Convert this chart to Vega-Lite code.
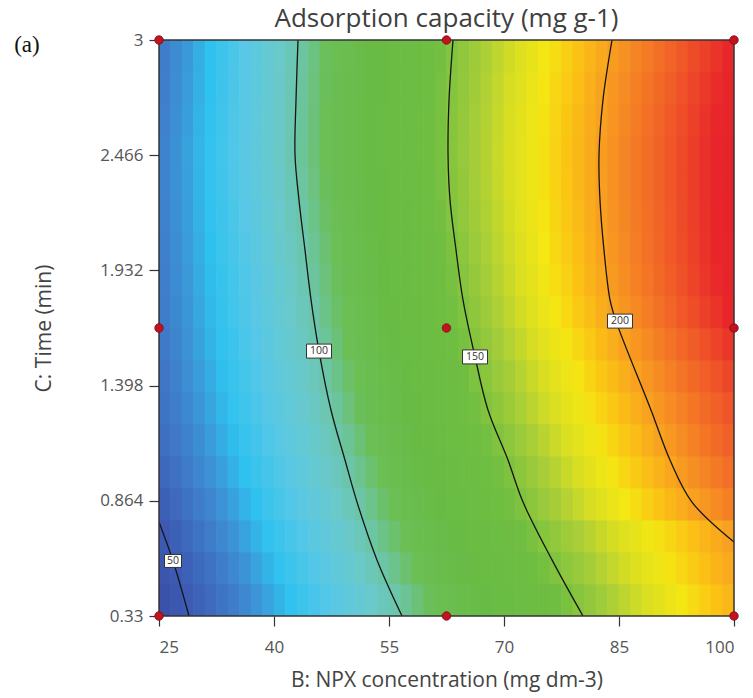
{
"$schema":"https://vega.github.io/schema/vega-lite/v6.json",
"width":575,"height":576,
"autosize":{"type":"none"},
"padding":{"left":159,"top":40,"right":19,"bottom":82},
"background":"white",
"title":{"text":"Adsorption capacity (mg g-1)","font":"Open Sans","fontSize":26,"fontWeight":"normal","color":"#404040","anchor":"middle","baseline":"alphabetic","offset":-22},
"config":{"view":{"stroke":null},"font":"Open Sans"},
"datasets":{
"grid":[
{"b":25.75,"c":0.404,"q":45.8},{"b":27.25,"c":0.404,"q":48.3},{"b":28.75,"c":0.404,"q":50.8},{"b":30.25,"c":0.404,"q":53.5},{"b":31.75,"c":0.404,"q":56.3},{"b":33.25,"c":0.404,"q":59.0},{"b":34.75,"c":0.404,"q":61.7},{"b":36.25,"c":0.404,"q":64.4},{"b":37.75,"c":0.404,"q":67.2},{"b":39.25,"c":0.404,"q":69.9},{"b":40.75,"c":0.404,"q":72.6},{"b":42.25,"c":0.404,"q":75.4},{"b":43.75,"c":0.404,"q":78.1},{"b":45.25,"c":0.404,"q":80.8},{"b":46.75,"c":0.404,"q":83.5},{"b":48.25,"c":0.404,"q":86.3},{"b":49.75,"c":0.404,"q":89.0},{"b":51.25,"c":0.404,"q":91.7},{"b":52.75,"c":0.404,"q":94.4},{"b":54.25,"c":0.404,"q":97.2},{"b":55.75,"c":0.404,"q":99.9},{"b":57.25,"c":0.404,"q":103.1},{"b":58.75,"c":0.404,"q":106.3},{"b":60.25,"c":0.404,"q":109.5},{"b":61.75,"c":0.404,"q":112.7},{"b":63.25,"c":0.404,"q":116.0},{"b":64.75,"c":0.404,"q":119.2},{"b":66.25,"c":0.404,"q":122.4},{"b":67.75,"c":0.404,"q":125.6},{"b":69.25,"c":0.404,"q":128.8},{"b":70.75,"c":0.404,"q":132.0},{"b":72.25,"c":0.404,"q":135.2},{"b":73.75,"c":0.404,"q":138.4},{"b":75.25,"c":0.404,"q":141.6},{"b":76.75,"c":0.404,"q":144.9},{"b":78.25,"c":0.404,"q":148.1},{"b":79.75,"c":0.404,"q":151.3},{"b":81.25,"c":0.404,"q":154.5},{"b":82.75,"c":0.404,"q":157.7},{"b":84.25,"c":0.404,"q":161.0},{"b":85.75,"c":0.404,"q":164.2},{"b":87.25,"c":0.404,"q":167.4},{"b":88.75,"c":0.404,"q":170.6},{"b":90.25,"c":0.404,"q":173.8},{"b":91.75,"c":0.404,"q":177.0},{"b":93.25,"c":0.404,"q":180.2},{"b":94.75,"c":0.404,"q":183.5},{"b":96.25,"c":0.404,"q":186.7},{"b":97.75,"c":0.404,"q":189.9},{"b":99.25,"c":0.404,"q":193.1},
{"b":25.75,"c":0.553,"q":47.8},{"b":27.25,"c":0.553,"q":50.3},{"b":28.75,"c":0.553,"q":53.1},{"b":30.25,"c":0.553,"q":55.9},{"b":31.75,"c":0.553,"q":58.7},{"b":33.25,"c":0.553,"q":61.5},{"b":34.75,"c":0.553,"q":64.3},{"b":36.25,"c":0.553,"q":67.1},{"b":37.75,"c":0.553,"q":69.9},{"b":39.25,"c":0.553,"q":72.7},{"b":40.75,"c":0.553,"q":75.5},{"b":42.25,"c":0.553,"q":78.2},{"b":43.75,"c":0.553,"q":81.0},{"b":45.25,"c":0.553,"q":83.8},{"b":46.75,"c":0.553,"q":86.6},{"b":48.25,"c":0.553,"q":89.4},{"b":49.75,"c":0.553,"q":92.2},{"b":51.25,"c":0.553,"q":95.0},{"b":52.75,"c":0.553,"q":97.8},{"b":54.25,"c":0.553,"q":100.6},{"b":55.75,"c":0.553,"q":103.9},{"b":57.25,"c":0.553,"q":107.2},{"b":58.75,"c":0.553,"q":110.5},{"b":60.25,"c":0.553,"q":113.7},{"b":61.75,"c":0.553,"q":117.0},{"b":63.25,"c":0.553,"q":120.3},{"b":64.75,"c":0.553,"q":123.6},{"b":66.25,"c":0.553,"q":126.9},{"b":67.75,"c":0.553,"q":130.1},{"b":69.25,"c":0.553,"q":133.4},{"b":70.75,"c":0.553,"q":136.7},{"b":72.25,"c":0.553,"q":140.0},{"b":73.75,"c":0.553,"q":143.3},{"b":75.25,"c":0.553,"q":146.5},{"b":76.75,"c":0.553,"q":149.8},{"b":78.25,"c":0.553,"q":153.0},{"b":79.75,"c":0.553,"q":156.1},{"b":81.25,"c":0.553,"q":159.3},{"b":82.75,"c":0.553,"q":162.5},{"b":84.25,"c":0.553,"q":165.6},{"b":85.75,"c":0.553,"q":168.8},{"b":87.25,"c":0.553,"q":171.9},{"b":88.75,"c":0.553,"q":175.1},{"b":90.25,"c":0.553,"q":178.2},{"b":91.75,"c":0.553,"q":181.4},{"b":93.25,"c":0.553,"q":184.6},{"b":94.75,"c":0.553,"q":187.7},{"b":96.25,"c":0.553,"q":190.9},{"b":97.75,"c":0.553,"q":194.0},{"b":99.25,"c":0.553,"q":197.2},
{"b":25.75,"c":0.701,"q":50.2},{"b":27.25,"c":0.701,"q":53.0},{"b":28.75,"c":0.701,"q":55.8},{"b":30.25,"c":0.701,"q":58.6},{"b":31.75,"c":0.701,"q":61.4},{"b":33.25,"c":0.701,"q":64.2},{"b":34.75,"c":0.701,"q":67.0},{"b":36.25,"c":0.701,"q":69.9},{"b":37.75,"c":0.701,"q":72.7},{"b":39.25,"c":0.701,"q":75.5},{"b":40.75,"c":0.701,"q":78.3},{"b":42.25,"c":0.701,"q":81.1},{"b":43.75,"c":0.701,"q":83.9},{"b":45.25,"c":0.701,"q":86.7},{"b":46.75,"c":0.701,"q":89.5},{"b":48.25,"c":0.701,"q":92.3},{"b":49.75,"c":0.701,"q":95.1},{"b":51.25,"c":0.701,"q":97.9},{"b":52.75,"c":0.701,"q":100.8},{"b":54.25,"c":0.701,"q":104.2},{"b":55.75,"c":0.701,"q":107.5},{"b":57.25,"c":0.701,"q":110.9},{"b":58.75,"c":0.701,"q":114.3},{"b":60.25,"c":0.701,"q":117.6},{"b":61.75,"c":0.701,"q":121.0},{"b":63.25,"c":0.701,"q":124.3},{"b":64.75,"c":0.701,"q":127.7},{"b":66.25,"c":0.701,"q":131.1},{"b":67.75,"c":0.701,"q":134.4},{"b":69.25,"c":0.701,"q":137.8},{"b":70.75,"c":0.701,"q":141.1},{"b":72.25,"c":0.701,"q":144.5},{"b":73.75,"c":0.701,"q":147.9},{"b":75.25,"c":0.701,"q":151.1},{"b":76.75,"c":0.701,"q":154.2},{"b":78.25,"c":0.701,"q":157.2},{"b":79.75,"c":0.701,"q":160.3},{"b":81.25,"c":0.701,"q":163.3},{"b":82.75,"c":0.701,"q":166.4},{"b":84.25,"c":0.701,"q":169.4},{"b":85.75,"c":0.701,"q":172.5},{"b":87.25,"c":0.701,"q":175.5},{"b":88.75,"c":0.701,"q":178.6},{"b":90.25,"c":0.701,"q":181.6},{"b":91.75,"c":0.701,"q":184.7},{"b":93.25,"c":0.701,"q":187.7},{"b":94.75,"c":0.701,"q":190.8},{"b":96.25,"c":0.701,"q":193.8},{"b":97.75,"c":0.701,"q":196.9},{"b":99.25,"c":0.701,"q":199.9},
{"b":25.75,"c":0.849,"q":52.9},{"b":27.25,"c":0.849,"q":55.7},{"b":28.75,"c":0.849,"q":58.5},{"b":30.25,"c":0.849,"q":61.3},{"b":31.75,"c":0.849,"q":64.1},{"b":33.25,"c":0.849,"q":66.9},{"b":34.75,"c":0.849,"q":69.7},{"b":36.25,"c":0.849,"q":72.5},{"b":37.75,"c":0.849,"q":75.3},{"b":39.25,"c":0.849,"q":78.1},{"b":40.75,"c":0.849,"q":80.9},{"b":42.25,"c":0.849,"q":83.7},{"b":43.75,"c":0.849,"q":86.5},{"b":45.25,"c":0.849,"q":89.3},{"b":46.75,"c":0.849,"q":92.1},{"b":48.25,"c":0.849,"q":94.9},{"b":49.75,"c":0.849,"q":97.7},{"b":51.25,"c":0.849,"q":100.7},{"b":52.75,"c":0.849,"q":104.1},{"b":54.25,"c":0.849,"q":107.6},{"b":55.75,"c":0.849,"q":111.1},{"b":57.25,"c":0.849,"q":114.5},{"b":58.75,"c":0.849,"q":118.0},{"b":60.25,"c":0.849,"q":121.5},{"b":61.75,"c":0.849,"q":124.9},{"b":63.25,"c":0.849,"q":128.4},{"b":64.75,"c":0.849,"q":131.9},{"b":66.25,"c":0.849,"q":135.3},{"b":67.75,"c":0.849,"q":138.8},{"b":69.25,"c":0.849,"q":142.3},{"b":70.75,"c":0.849,"q":145.7},{"b":72.25,"c":0.849,"q":149.2},{"b":73.75,"c":0.849,"q":152.6},{"b":75.25,"c":0.849,"q":156.0},{"b":76.75,"c":0.849,"q":159.4},{"b":78.25,"c":0.849,"q":162.7},{"b":79.75,"c":0.849,"q":166.1},{"b":81.25,"c":0.849,"q":169.5},{"b":82.75,"c":0.849,"q":172.9},{"b":84.25,"c":0.849,"q":176.3},{"b":85.75,"c":0.849,"q":179.6},{"b":87.25,"c":0.849,"q":183.0},{"b":88.75,"c":0.849,"q":186.4},{"b":90.25,"c":0.849,"q":189.8},{"b":91.75,"c":0.849,"q":193.1},{"b":93.25,"c":0.849,"q":196.5},{"b":94.75,"c":0.849,"q":199.9},{"b":96.25,"c":0.849,"q":203.3},{"b":97.75,"c":0.849,"q":206.7},{"b":99.25,"c":0.849,"q":210.0},
{"b":25.75,"c":0.998,"q":55.4},{"b":27.25,"c":0.998,"q":58.2},{"b":28.75,"c":0.998,"q":61.0},{"b":30.25,"c":0.998,"q":63.8},{"b":31.75,"c":0.998,"q":66.6},{"b":33.25,"c":0.998,"q":69.4},{"b":34.75,"c":0.998,"q":72.2},{"b":36.25,"c":0.998,"q":75.0},{"b":37.75,"c":0.998,"q":77.8},{"b":39.25,"c":0.998,"q":80.5},{"b":40.75,"c":0.998,"q":83.3},{"b":42.25,"c":0.998,"q":86.1},{"b":43.75,"c":0.998,"q":88.9},{"b":45.25,"c":0.998,"q":91.7},{"b":46.75,"c":0.998,"q":94.5},{"b":48.25,"c":0.998,"q":97.3},{"b":49.75,"c":0.998,"q":100.1},{"b":51.25,"c":0.998,"q":103.6},{"b":52.75,"c":0.998,"q":107.1},{"b":54.25,"c":0.998,"q":110.6},{"b":55.75,"c":0.998,"q":114.1},{"b":57.25,"c":0.998,"q":117.7},{"b":58.75,"c":0.998,"q":121.2},{"b":60.25,"c":0.998,"q":124.7},{"b":61.75,"c":0.998,"q":128.2},{"b":63.25,"c":0.998,"q":131.7},{"b":64.75,"c":0.998,"q":135.2},{"b":66.25,"c":0.998,"q":138.7},{"b":67.75,"c":0.998,"q":142.2},{"b":69.25,"c":0.998,"q":145.7},{"b":70.75,"c":0.998,"q":149.2},{"b":72.25,"c":0.998,"q":152.7},{"b":73.75,"c":0.998,"q":156.2},{"b":75.25,"c":0.998,"q":159.7},{"b":76.75,"c":0.998,"q":163.2},{"b":78.25,"c":0.998,"q":166.7},{"b":79.75,"c":0.998,"q":170.2},{"b":81.25,"c":0.998,"q":173.8},{"b":82.75,"c":0.998,"q":177.3},{"b":84.25,"c":0.998,"q":180.8},{"b":85.75,"c":0.998,"q":184.3},{"b":87.25,"c":0.998,"q":187.8},{"b":88.75,"c":0.998,"q":191.3},{"b":90.25,"c":0.998,"q":194.8},{"b":91.75,"c":0.998,"q":198.3},{"b":93.25,"c":0.998,"q":201.8},{"b":94.75,"c":0.998,"q":205.3},{"b":96.25,"c":0.998,"q":208.8},{"b":97.75,"c":0.998,"q":212.3},{"b":99.25,"c":0.998,"q":215.8},
{"b":25.75,"c":1.146,"q":57.4},{"b":27.25,"c":1.146,"q":60.2},{"b":28.75,"c":1.146,"q":63.0},{"b":30.25,"c":1.146,"q":65.8},{"b":31.75,"c":1.146,"q":68.6},{"b":33.25,"c":1.146,"q":71.4},{"b":34.75,"c":1.146,"q":74.2},{"b":36.25,"c":1.146,"q":77.0},{"b":37.75,"c":1.146,"q":79.8},{"b":39.25,"c":1.146,"q":82.6},{"b":40.75,"c":1.146,"q":85.4},{"b":42.25,"c":1.146,"q":88.2},{"b":43.75,"c":1.146,"q":91.0},{"b":45.25,"c":1.146,"q":93.8},{"b":46.75,"c":1.146,"q":96.7},{"b":48.25,"c":1.146,"q":99.5},{"b":49.75,"c":1.146,"q":102.9},{"b":51.25,"c":1.146,"q":106.5},{"b":52.75,"c":1.146,"q":110.1},{"b":54.25,"c":1.146,"q":113.7},{"b":55.75,"c":1.146,"q":117.2},{"b":57.25,"c":1.146,"q":120.8},{"b":58.75,"c":1.146,"q":124.4},{"b":60.25,"c":1.146,"q":128.0},{"b":61.75,"c":1.146,"q":131.6},{"b":63.25,"c":1.146,"q":135.2},{"b":64.75,"c":1.146,"q":138.7},{"b":66.25,"c":1.146,"q":142.3},{"b":67.75,"c":1.146,"q":145.9},{"b":69.25,"c":1.146,"q":149.5},{"b":70.75,"c":1.146,"q":153.0},{"b":72.25,"c":1.146,"q":156.5},{"b":73.75,"c":1.146,"q":160.1},{"b":75.25,"c":1.146,"q":163.6},{"b":76.75,"c":1.146,"q":167.2},{"b":78.25,"c":1.146,"q":170.7},{"b":79.75,"c":1.146,"q":174.2},{"b":81.25,"c":1.146,"q":177.8},{"b":82.75,"c":1.146,"q":181.3},{"b":84.25,"c":1.146,"q":184.9},{"b":85.75,"c":1.146,"q":188.4},{"b":87.25,"c":1.146,"q":191.9},{"b":88.75,"c":1.146,"q":195.5},{"b":90.25,"c":1.146,"q":199.0},{"b":91.75,"c":1.146,"q":202.6},{"b":93.25,"c":1.146,"q":206.1},{"b":94.75,"c":1.146,"q":209.7},{"b":96.25,"c":1.146,"q":213.2},{"b":97.75,"c":1.146,"q":216.8},{"b":99.25,"c":1.146,"q":220.3},
{"b":25.75,"c":1.295,"q":58.9},{"b":27.25,"c":1.295,"q":61.8},{"b":28.75,"c":1.295,"q":64.6},{"b":30.25,"c":1.295,"q":67.5},{"b":31.75,"c":1.295,"q":70.3},{"b":33.25,"c":1.295,"q":73.2},{"b":34.75,"c":1.295,"q":76.0},{"b":36.25,"c":1.295,"q":78.8},{"b":37.75,"c":1.295,"q":81.7},{"b":39.25,"c":1.295,"q":84.5},{"b":40.75,"c":1.295,"q":87.4},{"b":42.25,"c":1.295,"q":90.2},{"b":43.75,"c":1.295,"q":93.1},{"b":45.25,"c":1.295,"q":95.9},{"b":46.75,"c":1.295,"q":98.8},{"b":48.25,"c":1.295,"q":102.1},{"b":49.75,"c":1.295,"q":105.8},{"b":51.25,"c":1.295,"q":109.4},{"b":52.75,"c":1.295,"q":113.1},{"b":54.25,"c":1.295,"q":116.8},{"b":55.75,"c":1.295,"q":120.4},{"b":57.25,"c":1.295,"q":124.1},{"b":58.75,"c":1.295,"q":127.8},{"b":60.25,"c":1.295,"q":131.4},{"b":61.75,"c":1.295,"q":135.1},{"b":63.25,"c":1.295,"q":138.8},{"b":64.75,"c":1.295,"q":142.4},{"b":66.25,"c":1.295,"q":146.1},{"b":67.75,"c":1.295,"q":149.8},{"b":69.25,"c":1.295,"q":153.3},{"b":70.75,"c":1.295,"q":156.8},{"b":72.25,"c":1.295,"q":160.4},{"b":73.75,"c":1.295,"q":163.9},{"b":75.25,"c":1.295,"q":167.4},{"b":76.75,"c":1.295,"q":170.9},{"b":78.25,"c":1.295,"q":174.5},{"b":79.75,"c":1.295,"q":178.0},{"b":81.25,"c":1.295,"q":181.5},{"b":82.75,"c":1.295,"q":185.1},{"b":84.25,"c":1.295,"q":188.6},{"b":85.75,"c":1.295,"q":192.1},{"b":87.25,"c":1.295,"q":195.7},{"b":88.75,"c":1.295,"q":199.2},{"b":90.25,"c":1.295,"q":202.7},{"b":91.75,"c":1.295,"q":206.3},{"b":93.25,"c":1.295,"q":209.8},{"b":94.75,"c":1.295,"q":213.3},{"b":96.25,"c":1.295,"q":216.9},{"b":97.75,"c":1.295,"q":220.4},{"b":99.25,"c":1.295,"q":223.9},
{"b":25.75,"c":1.443,"q":59.9},{"b":27.25,"c":1.443,"q":62.8},{"b":28.75,"c":1.443,"q":65.7},{"b":30.25,"c":1.443,"q":68.6},{"b":31.75,"c":1.443,"q":71.5},{"b":33.25,"c":1.443,"q":74.4},{"b":34.75,"c":1.443,"q":77.2},{"b":36.25,"c":1.443,"q":80.1},{"b":37.75,"c":1.443,"q":83.0},{"b":39.25,"c":1.443,"q":85.9},{"b":40.75,"c":1.443,"q":88.8},{"b":42.25,"c":1.443,"q":91.7},{"b":43.75,"c":1.443,"q":94.6},{"b":45.25,"c":1.443,"q":97.5},{"b":46.75,"c":1.443,"q":100.5},{"b":48.25,"c":1.443,"q":104.2},{"b":49.75,"c":1.443,"q":107.9},{"b":51.25,"c":1.443,"q":111.6},{"b":52.75,"c":1.443,"q":115.3},{"b":54.25,"c":1.443,"q":119.0},{"b":55.75,"c":1.443,"q":122.7},{"b":57.25,"c":1.443,"q":126.4},{"b":58.75,"c":1.443,"q":130.1},{"b":60.25,"c":1.443,"q":133.8},{"b":61.75,"c":1.443,"q":137.5},{"b":63.25,"c":1.443,"q":141.2},{"b":64.75,"c":1.443,"q":144.9},{"b":66.25,"c":1.443,"q":148.6},{"b":67.75,"c":1.443,"q":152.2},{"b":69.25,"c":1.443,"q":155.8},{"b":70.75,"c":1.443,"q":159.5},{"b":72.25,"c":1.443,"q":163.1},{"b":73.75,"c":1.443,"q":166.7},{"b":75.25,"c":1.443,"q":170.3},{"b":76.75,"c":1.443,"q":173.9},{"b":78.25,"c":1.443,"q":177.6},{"b":79.75,"c":1.443,"q":181.2},{"b":81.25,"c":1.443,"q":184.8},{"b":82.75,"c":1.443,"q":188.4},{"b":84.25,"c":1.443,"q":192.0},{"b":85.75,"c":1.443,"q":195.7},{"b":87.25,"c":1.443,"q":199.3},{"b":88.75,"c":1.443,"q":202.9},{"b":90.25,"c":1.443,"q":206.6},{"b":91.75,"c":1.443,"q":210.2},{"b":93.25,"c":1.443,"q":213.8},{"b":94.75,"c":1.443,"q":217.4},{"b":96.25,"c":1.443,"q":221.0},{"b":97.75,"c":1.443,"q":224.7},{"b":99.25,"c":1.443,"q":228.3},
{"b":25.75,"c":1.591,"q":60.8},{"b":27.25,"c":1.591,"q":63.7},{"b":28.75,"c":1.591,"q":66.7},{"b":30.25,"c":1.591,"q":69.6},{"b":31.75,"c":1.591,"q":72.6},{"b":33.25,"c":1.591,"q":75.5},{"b":34.75,"c":1.591,"q":78.5},{"b":36.25,"c":1.591,"q":81.4},{"b":37.75,"c":1.591,"q":84.4},{"b":39.25,"c":1.591,"q":87.3},{"b":40.75,"c":1.591,"q":90.3},{"b":42.25,"c":1.591,"q":93.2},{"b":43.75,"c":1.591,"q":96.2},{"b":45.25,"c":1.591,"q":99.1},{"b":46.75,"c":1.591,"q":102.5},{"b":48.25,"c":1.591,"q":106.3},{"b":49.75,"c":1.591,"q":110.0},{"b":51.25,"c":1.591,"q":113.7},{"b":52.75,"c":1.591,"q":117.4},{"b":54.25,"c":1.591,"q":121.2},{"b":55.75,"c":1.591,"q":124.9},{"b":57.25,"c":1.591,"q":128.6},{"b":58.75,"c":1.591,"q":132.3},{"b":60.25,"c":1.591,"q":136.1},{"b":61.75,"c":1.591,"q":139.8},{"b":63.25,"c":1.591,"q":143.5},{"b":64.75,"c":1.591,"q":147.2},{"b":66.25,"c":1.591,"q":151.0},{"b":67.75,"c":1.591,"q":154.7},{"b":69.25,"c":1.591,"q":158.4},{"b":70.75,"c":1.591,"q":162.2},{"b":72.25,"c":1.591,"q":165.9},{"b":73.75,"c":1.591,"q":169.6},{"b":75.25,"c":1.591,"q":173.3},{"b":76.75,"c":1.591,"q":177.1},{"b":78.25,"c":1.591,"q":180.8},{"b":79.75,"c":1.591,"q":184.5},{"b":81.25,"c":1.591,"q":188.2},{"b":82.75,"c":1.591,"q":192.0},{"b":84.25,"c":1.591,"q":195.7},{"b":85.75,"c":1.591,"q":199.4},{"b":87.25,"c":1.591,"q":203.2},{"b":88.75,"c":1.591,"q":206.9},{"b":90.25,"c":1.591,"q":210.6},{"b":91.75,"c":1.591,"q":214.4},{"b":93.25,"c":1.591,"q":218.1},{"b":94.75,"c":1.591,"q":221.8},{"b":96.25,"c":1.591,"q":225.5},{"b":97.75,"c":1.591,"q":229.3},{"b":99.25,"c":1.591,"q":233.0},
{"b":25.75,"c":1.74,"q":61.5},{"b":27.25,"c":1.74,"q":64.5},{"b":28.75,"c":1.74,"q":67.5},{"b":30.25,"c":1.74,"q":70.5},{"b":31.75,"c":1.74,"q":73.5},{"b":33.25,"c":1.74,"q":76.5},{"b":34.75,"c":1.74,"q":79.4},{"b":36.25,"c":1.74,"q":82.4},{"b":37.75,"c":1.74,"q":85.4},{"b":39.25,"c":1.74,"q":88.4},{"b":40.75,"c":1.74,"q":91.4},{"b":42.25,"c":1.74,"q":94.4},{"b":43.75,"c":1.74,"q":97.4},{"b":45.25,"c":1.74,"q":100.4},{"b":46.75,"c":1.74,"q":104.2},{"b":48.25,"c":1.74,"q":108.0},{"b":49.75,"c":1.74,"q":111.7},{"b":51.25,"c":1.74,"q":115.5},{"b":52.75,"c":1.74,"q":119.3},{"b":54.25,"c":1.74,"q":123.0},{"b":55.75,"c":1.74,"q":126.8},{"b":57.25,"c":1.74,"q":130.6},{"b":58.75,"c":1.74,"q":134.3},{"b":60.25,"c":1.74,"q":138.1},{"b":61.75,"c":1.74,"q":141.9},{"b":63.25,"c":1.74,"q":145.7},{"b":64.75,"c":1.74,"q":149.4},{"b":66.25,"c":1.74,"q":153.3},{"b":67.75,"c":1.74,"q":157.1},{"b":69.25,"c":1.74,"q":161.0},{"b":70.75,"c":1.74,"q":164.9},{"b":72.25,"c":1.74,"q":168.7},{"b":73.75,"c":1.74,"q":172.6},{"b":75.25,"c":1.74,"q":176.4},{"b":76.75,"c":1.74,"q":180.3},{"b":78.25,"c":1.74,"q":184.1},{"b":79.75,"c":1.74,"q":188.0},{"b":81.25,"c":1.74,"q":191.9},{"b":82.75,"c":1.74,"q":195.7},{"b":84.25,"c":1.74,"q":199.6},{"b":85.75,"c":1.74,"q":203.4},{"b":87.25,"c":1.74,"q":207.3},{"b":88.75,"c":1.74,"q":211.1},{"b":90.25,"c":1.74,"q":215.0},{"b":91.75,"c":1.74,"q":218.8},{"b":93.25,"c":1.74,"q":222.7},{"b":94.75,"c":1.74,"q":226.6},{"b":96.25,"c":1.74,"q":230.4},{"b":97.75,"c":1.74,"q":234.3},{"b":99.25,"c":1.74,"q":238.1},
{"b":25.75,"c":1.888,"q":62.0},{"b":27.25,"c":1.888,"q":65.0},{"b":28.75,"c":1.888,"q":68.1},{"b":30.25,"c":1.888,"q":71.1},{"b":31.75,"c":1.888,"q":74.1},{"b":33.25,"c":1.888,"q":77.2},{"b":34.75,"c":1.888,"q":80.2},{"b":36.25,"c":1.888,"q":83.3},{"b":37.75,"c":1.888,"q":86.3},{"b":39.25,"c":1.888,"q":89.3},{"b":40.75,"c":1.888,"q":92.4},{"b":42.25,"c":1.888,"q":95.4},{"b":43.75,"c":1.888,"q":98.4},{"b":45.25,"c":1.888,"q":101.9},{"b":46.75,"c":1.888,"q":105.7},{"b":48.25,"c":1.888,"q":109.4},{"b":49.75,"c":1.888,"q":113.2},{"b":51.25,"c":1.888,"q":117.0},{"b":52.75,"c":1.888,"q":120.8},{"b":54.25,"c":1.888,"q":124.6},{"b":55.75,"c":1.888,"q":128.4},{"b":57.25,"c":1.888,"q":132.2},{"b":58.75,"c":1.888,"q":136.0},{"b":60.25,"c":1.888,"q":139.8},{"b":61.75,"c":1.888,"q":143.6},{"b":63.25,"c":1.888,"q":147.4},{"b":64.75,"c":1.888,"q":151.2},{"b":66.25,"c":1.888,"q":155.1},{"b":67.75,"c":1.888,"q":159.0},{"b":69.25,"c":1.888,"q":162.9},{"b":70.75,"c":1.888,"q":166.8},{"b":72.25,"c":1.888,"q":170.7},{"b":73.75,"c":1.888,"q":174.6},{"b":75.25,"c":1.888,"q":178.5},{"b":76.75,"c":1.888,"q":182.4},{"b":78.25,"c":1.888,"q":186.3},{"b":79.75,"c":1.888,"q":190.2},{"b":81.25,"c":1.888,"q":194.1},{"b":82.75,"c":1.888,"q":198.0},{"b":84.25,"c":1.888,"q":201.9},{"b":85.75,"c":1.888,"q":205.8},{"b":87.25,"c":1.888,"q":209.7},{"b":88.75,"c":1.888,"q":213.6},{"b":90.25,"c":1.888,"q":217.5},{"b":91.75,"c":1.888,"q":221.4},{"b":93.25,"c":1.888,"q":225.3},{"b":94.75,"c":1.888,"q":229.2},{"b":96.25,"c":1.888,"q":233.1},{"b":97.75,"c":1.888,"q":237.0},{"b":99.25,"c":1.888,"q":240.9},
{"b":25.75,"c":2.036,"q":62.5},{"b":27.25,"c":2.036,"q":65.5},{"b":28.75,"c":2.036,"q":68.6},{"b":30.25,"c":2.036,"q":71.7},{"b":31.75,"c":2.036,"q":74.8},{"b":33.25,"c":2.036,"q":77.9},{"b":34.75,"c":2.036,"q":80.9},{"b":36.25,"c":2.036,"q":84.0},{"b":37.75,"c":2.036,"q":87.1},{"b":39.25,"c":2.036,"q":90.2},{"b":40.75,"c":2.036,"q":93.3},{"b":42.25,"c":2.036,"q":96.3},{"b":43.75,"c":2.036,"q":99.5},{"b":45.25,"c":2.036,"q":103.1},{"b":46.75,"c":2.036,"q":106.9},{"b":48.25,"c":2.036,"q":110.7},{"b":49.75,"c":2.036,"q":114.5},{"b":51.25,"c":2.036,"q":118.3},{"b":52.75,"c":2.036,"q":122.1},{"b":54.25,"c":2.036,"q":126.0},{"b":55.75,"c":2.036,"q":129.8},{"b":57.25,"c":2.036,"q":133.6},{"b":58.75,"c":2.036,"q":137.4},{"b":60.25,"c":2.036,"q":141.2},{"b":61.75,"c":2.036,"q":145.0},{"b":63.25,"c":2.036,"q":148.8},{"b":64.75,"c":2.036,"q":152.7},{"b":66.25,"c":2.036,"q":156.6},{"b":67.75,"c":2.036,"q":160.4},{"b":69.25,"c":2.036,"q":164.3},{"b":70.75,"c":2.036,"q":168.2},{"b":72.25,"c":2.036,"q":172.1},{"b":73.75,"c":2.036,"q":176.0},{"b":75.25,"c":2.036,"q":179.9},{"b":76.75,"c":2.036,"q":183.8},{"b":78.25,"c":2.036,"q":187.7},{"b":79.75,"c":2.036,"q":191.5},{"b":81.25,"c":2.036,"q":195.4},{"b":82.75,"c":2.036,"q":199.3},{"b":84.25,"c":2.036,"q":203.2},{"b":85.75,"c":2.036,"q":207.1},{"b":87.25,"c":2.036,"q":211.0},{"b":88.75,"c":2.036,"q":214.9},{"b":90.25,"c":2.036,"q":218.8},{"b":91.75,"c":2.036,"q":222.7},{"b":93.25,"c":2.036,"q":226.6},{"b":94.75,"c":2.036,"q":230.4},{"b":96.25,"c":2.036,"q":234.3},{"b":97.75,"c":2.036,"q":238.2},{"b":99.25,"c":2.036,"q":242.1},
{"b":25.75,"c":2.185,"q":62.9},{"b":27.25,"c":2.185,"q":66.0},{"b":28.75,"c":2.185,"q":69.2},{"b":30.25,"c":2.185,"q":72.3},{"b":31.75,"c":2.185,"q":75.4},{"b":33.25,"c":2.185,"q":78.6},{"b":34.75,"c":2.185,"q":81.7},{"b":36.25,"c":2.185,"q":84.9},{"b":37.75,"c":2.185,"q":88.0},{"b":39.25,"c":2.185,"q":91.1},{"b":40.75,"c":2.185,"q":94.3},{"b":42.25,"c":2.185,"q":97.4},{"b":43.75,"c":2.185,"q":100.6},{"b":45.25,"c":2.185,"q":104.4},{"b":46.75,"c":2.185,"q":108.2},{"b":48.25,"c":2.185,"q":112.0},{"b":49.75,"c":2.185,"q":115.8},{"b":51.25,"c":2.185,"q":119.6},{"b":52.75,"c":2.185,"q":123.4},{"b":54.25,"c":2.185,"q":127.3},{"b":55.75,"c":2.185,"q":131.1},{"b":57.25,"c":2.185,"q":134.9},{"b":58.75,"c":2.185,"q":138.7},{"b":60.25,"c":2.185,"q":142.5},{"b":61.75,"c":2.185,"q":146.3},{"b":63.25,"c":2.185,"q":150.1},{"b":64.75,"c":2.185,"q":154.0},{"b":66.25,"c":2.185,"q":157.8},{"b":67.75,"c":2.185,"q":161.7},{"b":69.25,"c":2.185,"q":165.5},{"b":70.75,"c":2.185,"q":169.4},{"b":72.25,"c":2.185,"q":173.2},{"b":73.75,"c":2.185,"q":177.1},{"b":75.25,"c":2.185,"q":180.9},{"b":76.75,"c":2.185,"q":184.8},{"b":78.25,"c":2.185,"q":188.6},{"b":79.75,"c":2.185,"q":192.5},{"b":81.25,"c":2.185,"q":196.3},{"b":82.75,"c":2.185,"q":200.2},{"b":84.25,"c":2.185,"q":204.0},{"b":85.75,"c":2.185,"q":207.8},{"b":87.25,"c":2.185,"q":211.7},{"b":88.75,"c":2.185,"q":215.5},{"b":90.25,"c":2.185,"q":219.4},{"b":91.75,"c":2.185,"q":223.2},{"b":93.25,"c":2.185,"q":227.1},{"b":94.75,"c":2.185,"q":231.0},{"b":96.25,"c":2.185,"q":234.8},{"b":97.75,"c":2.185,"q":238.7},{"b":99.25,"c":2.185,"q":242.5},
{"b":25.75,"c":2.333,"q":63.1},{"b":27.25,"c":2.333,"q":66.3},{"b":28.75,"c":2.333,"q":69.5},{"b":30.25,"c":2.333,"q":72.7},{"b":31.75,"c":2.333,"q":75.9},{"b":33.25,"c":2.333,"q":79.1},{"b":34.75,"c":2.333,"q":82.3},{"b":36.25,"c":2.333,"q":85.5},{"b":37.75,"c":2.333,"q":88.7},{"b":39.25,"c":2.333,"q":91.9},{"b":40.75,"c":2.333,"q":95.1},{"b":42.25,"c":2.333,"q":98.3},{"b":43.75,"c":2.333,"q":101.7},{"b":45.25,"c":2.333,"q":105.5},{"b":46.75,"c":2.333,"q":109.3},{"b":48.25,"c":2.333,"q":113.1},{"b":49.75,"c":2.333,"q":116.9},{"b":51.25,"c":2.333,"q":120.7},{"b":52.75,"c":2.333,"q":124.4},{"b":54.25,"c":2.333,"q":128.2},{"b":55.75,"c":2.333,"q":132.0},{"b":57.25,"c":2.333,"q":135.8},{"b":58.75,"c":2.333,"q":139.6},{"b":60.25,"c":2.333,"q":143.4},{"b":61.75,"c":2.333,"q":147.2},{"b":63.25,"c":2.333,"q":151.0},{"b":64.75,"c":2.333,"q":154.8},{"b":66.25,"c":2.333,"q":158.6},{"b":67.75,"c":2.333,"q":162.5},{"b":69.25,"c":2.333,"q":166.3},{"b":70.75,"c":2.333,"q":170.1},{"b":72.25,"c":2.333,"q":173.9},{"b":73.75,"c":2.333,"q":177.8},{"b":75.25,"c":2.333,"q":181.6},{"b":76.75,"c":2.333,"q":185.4},{"b":78.25,"c":2.333,"q":189.3},{"b":79.75,"c":2.333,"q":193.1},{"b":81.25,"c":2.333,"q":196.9},{"b":82.75,"c":2.333,"q":200.7},{"b":84.25,"c":2.333,"q":204.5},{"b":85.75,"c":2.333,"q":208.4},{"b":87.25,"c":2.333,"q":212.2},{"b":88.75,"c":2.333,"q":216.0},{"b":90.25,"c":2.333,"q":219.8},{"b":91.75,"c":2.333,"q":223.7},{"b":93.25,"c":2.333,"q":227.5},{"b":94.75,"c":2.333,"q":231.3},{"b":96.25,"c":2.333,"q":235.1},{"b":97.75,"c":2.333,"q":239.0},{"b":99.25,"c":2.333,"q":242.8},
{"b":25.75,"c":2.481,"q":63.1},{"b":27.25,"c":2.481,"q":66.4},{"b":28.75,"c":2.481,"q":69.6},{"b":30.25,"c":2.481,"q":72.9},{"b":31.75,"c":2.481,"q":76.1},{"b":33.25,"c":2.481,"q":79.4},{"b":34.75,"c":2.481,"q":82.6},{"b":36.25,"c":2.481,"q":85.9},{"b":37.75,"c":2.481,"q":89.1},{"b":39.25,"c":2.481,"q":92.4},{"b":40.75,"c":2.481,"q":95.6},{"b":42.25,"c":2.481,"q":98.9},{"b":43.75,"c":2.481,"q":102.5},{"b":45.25,"c":2.481,"q":106.3},{"b":46.75,"c":2.481,"q":110.0},{"b":48.25,"c":2.481,"q":113.8},{"b":49.75,"c":2.481,"q":117.5},{"b":51.25,"c":2.481,"q":121.3},{"b":52.75,"c":2.481,"q":125.1},{"b":54.25,"c":2.481,"q":128.8},{"b":55.75,"c":2.481,"q":132.6},{"b":57.25,"c":2.481,"q":136.3},{"b":58.75,"c":2.481,"q":140.1},{"b":60.25,"c":2.481,"q":143.9},{"b":61.75,"c":2.481,"q":147.6},{"b":63.25,"c":2.481,"q":151.4},{"b":64.75,"c":2.481,"q":155.2},{"b":66.25,"c":2.481,"q":159.0},{"b":67.75,"c":2.481,"q":162.8},{"b":69.25,"c":2.481,"q":166.6},{"b":70.75,"c":2.481,"q":170.4},{"b":72.25,"c":2.481,"q":174.2},{"b":73.75,"c":2.481,"q":178.0},{"b":75.25,"c":2.481,"q":181.8},{"b":76.75,"c":2.481,"q":185.6},{"b":78.25,"c":2.481,"q":189.5},{"b":79.75,"c":2.481,"q":193.3},{"b":81.25,"c":2.481,"q":197.1},{"b":82.75,"c":2.481,"q":200.9},{"b":84.25,"c":2.481,"q":204.7},{"b":85.75,"c":2.481,"q":208.5},{"b":87.25,"c":2.481,"q":212.3},{"b":88.75,"c":2.481,"q":216.1},{"b":90.25,"c":2.481,"q":219.9},{"b":91.75,"c":2.481,"q":223.7},{"b":93.25,"c":2.481,"q":227.5},{"b":94.75,"c":2.481,"q":231.3},{"b":96.25,"c":2.481,"q":235.1},{"b":97.75,"c":2.481,"q":238.9},{"b":99.25,"c":2.481,"q":242.7},
{"b":25.75,"c":2.63,"q":62.6},{"b":27.25,"c":2.63,"q":65.9},{"b":28.75,"c":2.63,"q":69.2},{"b":30.25,"c":2.63,"q":72.5},{"b":31.75,"c":2.63,"q":75.7},{"b":33.25,"c":2.63,"q":79.0},{"b":34.75,"c":2.63,"q":82.3},{"b":36.25,"c":2.63,"q":85.6},{"b":37.75,"c":2.63,"q":88.9},{"b":39.25,"c":2.63,"q":92.2},{"b":40.75,"c":2.63,"q":95.4},{"b":42.25,"c":2.63,"q":98.7},{"b":43.75,"c":2.63,"q":102.3},{"b":45.25,"c":2.63,"q":106.1},{"b":46.75,"c":2.63,"q":109.9},{"b":48.25,"c":2.63,"q":113.6},{"b":49.75,"c":2.63,"q":117.4},{"b":51.25,"c":2.63,"q":121.1},{"b":52.75,"c":2.63,"q":124.9},{"b":54.25,"c":2.63,"q":128.6},{"b":55.75,"c":2.63,"q":132.4},{"b":57.25,"c":2.63,"q":136.2},{"b":58.75,"c":2.63,"q":139.9},{"b":60.25,"c":2.63,"q":143.7},{"b":61.75,"c":2.63,"q":147.4},{"b":63.25,"c":2.63,"q":151.2},{"b":64.75,"c":2.63,"q":154.9},{"b":66.25,"c":2.63,"q":158.7},{"b":67.75,"c":2.63,"q":162.5},{"b":69.25,"c":2.63,"q":166.2},{"b":70.75,"c":2.63,"q":170.0},{"b":72.25,"c":2.63,"q":173.8},{"b":73.75,"c":2.63,"q":177.5},{"b":75.25,"c":2.63,"q":181.3},{"b":76.75,"c":2.63,"q":185.0},{"b":78.25,"c":2.63,"q":188.8},{"b":79.75,"c":2.63,"q":192.6},{"b":81.25,"c":2.63,"q":196.3},{"b":82.75,"c":2.63,"q":200.1},{"b":84.25,"c":2.63,"q":203.8},{"b":85.75,"c":2.63,"q":207.6},{"b":87.25,"c":2.63,"q":211.4},{"b":88.75,"c":2.63,"q":215.1},{"b":90.25,"c":2.63,"q":218.9},{"b":91.75,"c":2.63,"q":222.7},{"b":93.25,"c":2.63,"q":226.4},{"b":94.75,"c":2.63,"q":230.2},{"b":96.25,"c":2.63,"q":233.9},{"b":97.75,"c":2.63,"q":237.7},{"b":99.25,"c":2.63,"q":241.5},
{"b":25.75,"c":2.778,"q":62.1},{"b":27.25,"c":2.778,"q":65.4},{"b":28.75,"c":2.778,"q":68.7},{"b":30.25,"c":2.778,"q":72.0},{"b":31.75,"c":2.778,"q":75.3},{"b":33.25,"c":2.778,"q":78.6},{"b":34.75,"c":2.778,"q":81.9},{"b":36.25,"c":2.778,"q":85.2},{"b":37.75,"c":2.778,"q":88.5},{"b":39.25,"c":2.778,"q":91.8},{"b":40.75,"c":2.778,"q":95.1},{"b":42.25,"c":2.778,"q":98.4},{"b":43.75,"c":2.778,"q":102.0},{"b":45.25,"c":2.778,"q":105.8},{"b":46.75,"c":2.778,"q":109.5},{"b":48.25,"c":2.778,"q":113.3},{"b":49.75,"c":2.778,"q":117.0},{"b":51.25,"c":2.778,"q":120.8},{"b":52.75,"c":2.778,"q":124.5},{"b":54.25,"c":2.778,"q":128.3},{"b":55.75,"c":2.778,"q":132.0},{"b":57.25,"c":2.778,"q":135.8},{"b":58.75,"c":2.778,"q":139.5},{"b":60.25,"c":2.778,"q":143.3},{"b":61.75,"c":2.778,"q":147.0},{"b":63.25,"c":2.778,"q":150.8},{"b":64.75,"c":2.778,"q":154.5},{"b":66.25,"c":2.778,"q":158.2},{"b":67.75,"c":2.778,"q":161.9},{"b":69.25,"c":2.778,"q":165.6},{"b":70.75,"c":2.778,"q":169.3},{"b":72.25,"c":2.778,"q":173.0},{"b":73.75,"c":2.778,"q":176.8},{"b":75.25,"c":2.778,"q":180.5},{"b":76.75,"c":2.778,"q":184.2},{"b":78.25,"c":2.778,"q":187.9},{"b":79.75,"c":2.778,"q":191.6},{"b":81.25,"c":2.778,"q":195.3},{"b":82.75,"c":2.778,"q":199.0},{"b":84.25,"c":2.778,"q":202.7},{"b":85.75,"c":2.778,"q":206.4},{"b":87.25,"c":2.778,"q":210.1},{"b":88.75,"c":2.778,"q":213.8},{"b":90.25,"c":2.778,"q":217.5},{"b":91.75,"c":2.778,"q":221.2},{"b":93.25,"c":2.778,"q":224.9},{"b":94.75,"c":2.778,"q":228.7},{"b":96.25,"c":2.778,"q":232.4},{"b":97.75,"c":2.778,"q":236.1},{"b":99.25,"c":2.778,"q":239.8},
{"b":25.75,"c":2.926,"q":61.7},{"b":27.25,"c":2.926,"q":65.0},{"b":28.75,"c":2.926,"q":68.4},{"b":30.25,"c":2.926,"q":71.7},{"b":31.75,"c":2.926,"q":75.0},{"b":33.25,"c":2.926,"q":78.3},{"b":34.75,"c":2.926,"q":81.6},{"b":36.25,"c":2.926,"q":85.0},{"b":37.75,"c":2.926,"q":88.3},{"b":39.25,"c":2.926,"q":91.6},{"b":40.75,"c":2.926,"q":94.9},{"b":42.25,"c":2.926,"q":98.2},{"b":43.75,"c":2.926,"q":101.7},{"b":45.25,"c":2.926,"q":105.4},{"b":46.75,"c":2.926,"q":109.2},{"b":48.25,"c":2.926,"q":112.9},{"b":49.75,"c":2.926,"q":116.6},{"b":51.25,"c":2.926,"q":120.3},{"b":52.75,"c":2.926,"q":124.1},{"b":54.25,"c":2.926,"q":127.8},{"b":55.75,"c":2.926,"q":131.5},{"b":57.25,"c":2.926,"q":135.2},{"b":58.75,"c":2.926,"q":139.0},{"b":60.25,"c":2.926,"q":142.7},{"b":61.75,"c":2.926,"q":146.4},{"b":63.25,"c":2.926,"q":150.1},{"b":64.75,"c":2.926,"q":153.8},{"b":66.25,"c":2.926,"q":157.4},{"b":67.75,"c":2.926,"q":161.1},{"b":69.25,"c":2.926,"q":164.7},{"b":70.75,"c":2.926,"q":168.4},{"b":72.25,"c":2.926,"q":172.0},{"b":73.75,"c":2.926,"q":175.7},{"b":75.25,"c":2.926,"q":179.3},{"b":76.75,"c":2.926,"q":182.9},{"b":78.25,"c":2.926,"q":186.6},{"b":79.75,"c":2.926,"q":190.2},{"b":81.25,"c":2.926,"q":193.9},{"b":82.75,"c":2.926,"q":197.5},{"b":84.25,"c":2.926,"q":201.2},{"b":85.75,"c":2.926,"q":204.8},{"b":87.25,"c":2.926,"q":208.5},{"b":88.75,"c":2.926,"q":212.1},{"b":90.25,"c":2.926,"q":215.8},{"b":91.75,"c":2.926,"q":219.4},{"b":93.25,"c":2.926,"q":223.0},{"b":94.75,"c":2.926,"q":226.7},{"b":96.25,"c":2.926,"q":230.3},{"b":97.75,"c":2.926,"q":234.0},{"b":99.25,"c":2.926,"q":237.6}
],
"iso":[
{"lev":100,"b":43.13,"c":3.0},{"lev":100,"b":42.87,"c":2.722},{"lev":100,"b":42.74,"c":2.467},{"lev":100,"b":43.26,"c":2.258},{"lev":100,"b":44.04,"c":2.027},{"lev":100,"b":44.83,"c":1.795},{"lev":100,"b":45.87,"c":1.558},{"lev":100,"b":47.43,"c":1.285},{"lev":100,"b":49.26,"c":1.053},{"lev":100,"b":50.83,"c":0.858},{"lev":100,"b":53.43,"c":0.59},{"lev":100,"b":56.7,"c":0.33},
{"lev":150,"b":63.35,"c":3.0},{"lev":150,"b":62.83,"c":2.722},{"lev":150,"b":62.7,"c":2.467},{"lev":150,"b":62.96,"c":2.258},{"lev":150,"b":63.74,"c":2.027},{"lev":150,"b":64.65,"c":1.795},{"lev":150,"b":66.22,"c":1.531},{"lev":150,"b":67.91,"c":1.285},{"lev":150,"b":70.52,"c":1.053},{"lev":150,"b":72.48,"c":0.858},{"lev":150,"b":76.26,"c":0.59},{"lev":150,"b":80.3,"c":0.33},
{"lev":200,"b":84.09,"c":3.0},{"lev":200,"b":82.91,"c":2.722},{"lev":200,"b":82.39,"c":2.467},{"lev":200,"b":82.52,"c":2.258},{"lev":200,"b":83.04,"c":2.027},{"lev":200,"b":83.83,"c":1.795},{"lev":200,"b":84.61,"c":1.697},{"lev":200,"b":89.17,"c":1.285},{"lev":200,"b":91.65,"c":1.053},{"lev":200,"b":94.52,"c":0.858},{"lev":200,"b":100,"c":0.673},
{"lev":50,"b":25,"c":0.766},{"lev":50,"b":26.83,"c":0.585},{"lev":50,"b":28.91,"c":0.33}
],
"labs":[
{"lab":"50","b":26.83,"c":0.585},{"lab":"100","b":45.87,"c":1.558},{"lab":"150","b":66.22,"c":1.531},{"lab":"200","b":85.13,"c":1.697}
],
"pts":[
{"b":25,"c":0.33},{"b":62.5,"c":0.33},{"b":100,"c":0.33},{"b":25,"c":1.665},{"b":62.5,"c":1.665},{"b":100,"c":1.665},{"b":25,"c":3},{"b":62.5,"c":3},{"b":100,"c":3}
],
"vedge":[{"v":25},{"v":100}],
"hedge":[{"v":0.33},{"v":3}]
},
"layer":[
{"data":{"name":"grid"},
 "mark":{"type":"tick","orient":"vertical","thickness":12.2,"size":32.8,"opacity":1,"clip":true},
 "encoding":{
  "x":{"field":"b","type":"quantitative","scale":{"domain":[25,100],"nice":false,"zero":false},
       "axis":{"values":[25,40,55,70,85,100],"title":"B: NPX concentration (mg dm-3)","grid":false,"domain":false,"tickSize":10,"tickColor":"#333","tickWidth":1.2,"labelFontSize":17,"labelColor":"#555","labelPadding":13,"titleFontSize":21,"titleFontWeight":"normal","titleColor":"#444","titlePadding":14}},
  "y":{"field":"c","type":"quantitative","scale":{"domain":[0.33,3],"nice":false,"zero":false},
       "axis":{"values":[0.33,0.864,1.398,1.932,2.466,3],"format":".4~g","title":"C: Time (min)","grid":false,"domain":false,"tickSize":10,"tickColor":"#333","tickWidth":1.2,"labelFontSize":17,"labelColor":"#555","labelPadding":6,"titleFontSize":21,"titleFontWeight":"normal","titleColor":"#444","titlePadding":45}},
  "color":{"field":"q","type":"quantitative","legend":null,"scale":{"interpolate":"rgb","domain":[44,52,62,68,75,85,95,102,110,125,145,160,170,180,190,200,212,225,238,250],"range":["#3b4fa8","#3d5db5","#3f7ecb","#3b98d8","#2fc2ef","#58c8e6","#6ac9c9","#6cc49e","#6bbf55","#68bb44","#6fbe42","#a8ce38","#d8de22","#f4e713","#fbc214","#f8a020","#f47a25","#ef5228","#e8262a","#e41f26"]}}
 }},
{"data":{"name":"iso"},
 "mark":{"type":"line","interpolate":"catmull-rom","color":"#151515","strokeWidth":1.3,"clip":true},
 "encoding":{
  "x":{"field":"b","type":"quantitative"},
  "y":{"field":"c","type":"quantitative"},
  "detail":{"field":"lev","type":"nominal"},
  "order":{"field":"c","type":"quantitative"}
 }},
{"data":{"name":"vedge"},
 "mark":{"type":"rule","color":"#333","strokeWidth":1.5},
 "encoding":{
  "x":{"field":"v","type":"quantitative"}
 }},
{"data":{"name":"hedge"},
 "mark":{"type":"rule","color":"#333","strokeWidth":1.5},
 "encoding":{
  "y":{"field":"v","type":"quantitative"}
 }},
{"data":{"name":"labs"},
 "transform":[{"filter":"length(datum.lab) == 3"}],
 "mark":{"type":"point","shape":"M-1,-0.56H1V0.56H-1Z","size":625,"filled":true,"fill":"white","stroke":"#333","strokeWidth":1,"opacity":1},
 "encoding":{
  "x":{"field":"b","type":"quantitative"},
  "y":{"field":"c","type":"quantitative"}
 }},
{"data":{"name":"labs"},
 "transform":[{"filter":"length(datum.lab) == 2"}],
 "mark":{"type":"point","shape":"M-1,-0.76H1V0.76H-1Z","size":289,"filled":true,"fill":"white","stroke":"#333","strokeWidth":1,"opacity":1},
 "encoding":{
  "x":{"field":"b","type":"quantitative"},
  "y":{"field":"c","type":"quantitative"}
 }},
{"data":{"name":"labs"},
 "mark":{"type":"text","fontSize":10.5,"color":"#333","align":"center","baseline":"middle"},
 "encoding":{
  "x":{"field":"b","type":"quantitative"},
  "y":{"field":"c","type":"quantitative"},
  "text":{"field":"lab","type":"nominal"}
 }},
{"data":{"name":"pts"},
 "mark":{"type":"point","shape":"circle","size":72,"filled":true,"fill":"#c2141f","stroke":"#7a0a10","strokeWidth":0.8,"opacity":1,"clip":false},
 "encoding":{
  "x":{"field":"b","type":"quantitative"},
  "y":{"field":"c","type":"quantitative"}
 }},
{"data":{"values":[{"t":"(a)"}]},
 "mark":{"type":"text","font":"Liberation Serif","fontSize":23,"color":"#111","align":"center","baseline":"middle"},
 "encoding":{
  "x":{"datum":7.78,"type":"quantitative"},
  "y":{"datum":2.977,"type":"quantitative"},
  "text":{"field":"t","type":"nominal"}
 }}
]
}
